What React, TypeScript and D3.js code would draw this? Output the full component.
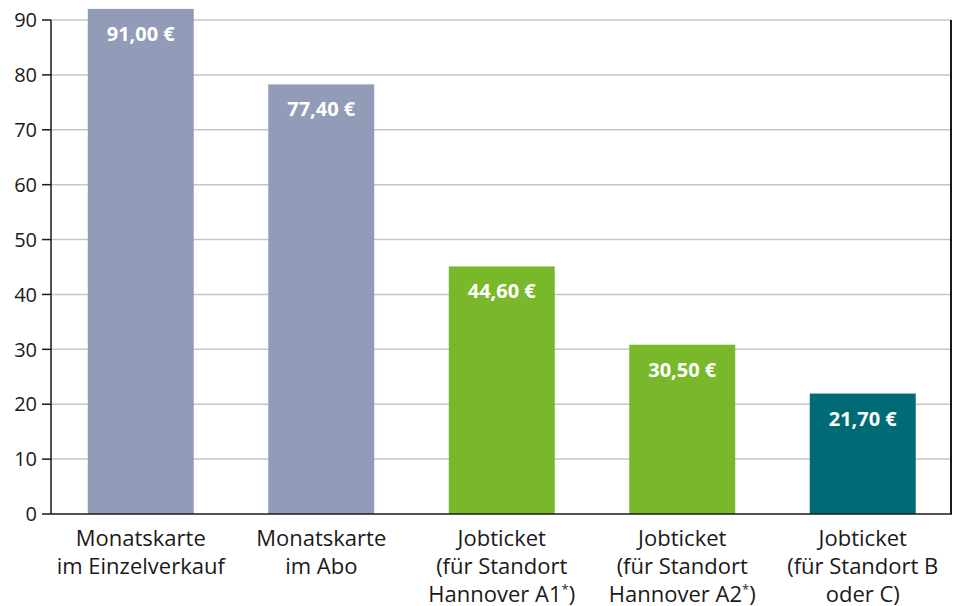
import React from "react";
import * as d3 from "d3";

const categories: string[][] = [
  ["Monatskarte", "im Einzelverkauf"],
  ["Monatskarte", "im Abo"],
  ["Jobticket", "(für Standort", "Hannover A1*)"],
  ["Jobticket", "(für Standort", "Hannover A2*)"],
  ["Jobticket", "(für Standort B", "oder C)"],
];
const values = [91.0, 77.4, 44.6, 30.5, 21.7];
const labels = ["91,00 €", "77,40 €", "44,60 €", "30,50 €", "21,70 €"];
const colors = ["#929cb8", "#929cb8", "#79b82b", "#79b82b", "#006b75"];
const yTicks = [0, 10, 20, 30, 40, 50, 60, 70, 80, 90];

const W = 953;
const H = 606;
const left = 51;
const right = 951;
const top = 20;
const bottom = 514;
const FONT = "'Open Sans', 'Noto Sans', sans-serif";

function renderLine(line: string) {
  const i = line.indexOf("*");
  if (i < 0) return line;
  return (
    <>
      {line.slice(0, i)}
      <tspan dy={-8} fontSize={13}>*</tspan>
      <tspan dy={8}>{line.slice(i + 1)}</tspan>
    </>
  );
}

export default function App() {
  const y = d3.scaleLinear().domain([0, 90]).range([bottom, top]);
  const yBar = d3.scaleLinear().domain([0, 89]).range([bottom, top]);
  const x = d3
    .scaleBand<number>()
    .domain(values.map((_, i) => i))
    .range([50.5, 953])
    .paddingInner(0.413)
    .paddingOuter(0.2065);

  return (
    <svg
      width={W}
      height={H}
      style={{ position: "absolute", left: 0, top: 0, background: "#fff" }}
      fontFamily={FONT}
    >
      {yTicks.map((t) => (
        <g key={t}>
          {t > 0 && (
            <line x1={left} x2={right} y1={y(t)} y2={y(t)} stroke="#c6c6c6" strokeWidth={1.5} />
          )}
          <line x1={42} x2={left} y1={y(t)} y2={y(t)} stroke="#1a1a1a" strokeWidth={1.5} />
          <text x={37} y={y(t)} dy="0.36em" textAnchor="end" fontSize={20} fill="#1a1a1a">
            {t}
          </text>
        </g>
      ))}
      {values.map((v, i) => (
        <g key={i}>
          <rect
            x={x(i)!}
            width={x.bandwidth()}
            y={yBar(v)}
            height={bottom - yBar(v)}
            fill={colors[i]}
          />
          <text
            x={x(i)! + x.bandwidth() / 2}
            y={yBar(v) + 32}
            textAnchor="middle"
            fontSize={20}
            fontWeight={700}
            fill="#fff"
          >
            {labels[i]}
          </text>
          {categories[i].map((line, j) => (
            <text
              key={j}
              x={x(i)! + x.bandwidth() / 2}
              y={545.5 + j * 28.2}
              textAnchor="middle"
              fontSize={22}
              fill="#1a1a1a"
            >
              {renderLine(line)}
            </text>
          ))}
        </g>
      ))}
      <line x1={left} x2={left} y1={top} y2={bottom} stroke="#1a1a1a" strokeWidth={1.5} />
      <line x1={right} x2={right} y1={top} y2={bottom} stroke="#1a1a1a" strokeWidth={2} />
      <line x1={left} x2={right + 1} y1={bottom} y2={bottom} stroke="#1a1a1a" strokeWidth={1.5} />
    </svg>
  );
}
